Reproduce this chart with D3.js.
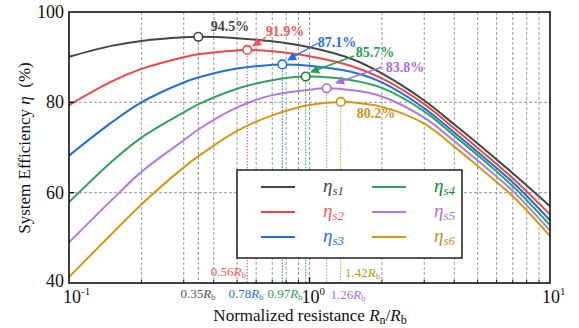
<!DOCTYPE html>
<html><head><meta charset="utf-8">
<script src="https://cdn.jsdelivr.net/npm/d3@7"></script>
<style>
html,body{margin:0;padding:0;background:#fff;}
</style></head>
<body><svg id="c" width="579" height="328" font-family="'Liberation Serif', 'Times New Roman', 'DejaVu Serif', serif"></svg>
<script>
// ---- data ----
const R = [0.1, 0.15, 0.2, 0.3, 0.35, 0.5, 0.7, 1, 1.5, 2, 3, 4, 5, 7, 10];
const etaS1 = [90.1, 92.5, 93.6, 94.4, null, 94.2, 93.5, 92.2, 89.6, 86.4, 80.4, 75.1, 70.9, 64.3, 57.0];
const etaS2 = [79.4, 84.6, 87.4, 90.0, 90.7, 91.5, 91.3, 90.2, 88.0, 85.3, 79.6, 74.2, 69.9, 63.2, 55.2];
const etaS3 = [68.2, 75.5, 80.0, 84.4, 85.6, 87.5, 88.3, 88.1, 86.7, 84.4, 78.7, 73.3, 69.0, 62.3, 53.9];
const etaS4 = [57.9, 66.8, 72.2, 77.8, 79.7, 83.0, 84.9, null, 84.9, 83.2, 78.0, 72.6, 68.3, 61.4, 52.8];
const etaS5 = [49.0, 58.3, 64.6, 71.6, 74.2, 78.9, 81.6, 82.8, 82.7, 81.3, 76.6, 71.4, 67.1, 60.4, 51.6];
const etaS6 = [41.3, 50.8, 57.4, 65.6, 68.3, 73.7, 77.1, 79.4, 80.0, 79.0, 75.3, 70.2, 65.9, 59.2, 50.4];
const seriesNames = ["s1", "s2", "s3", "s4", "s5", "s6"];
const peakR = [0.345, 0.551, 0.771, 0.964, 1.179, 1.348];
const peakEta = [94.5, 91.6, 88.4, 85.7, 83.1, 80.1];
const peakLabels = ["94.5%", "91.9%", "87.1%", "85.7%", "83.8%", "80.2%"];
const peakRLabels = ["0.35", "0.56", "0.78", "0.97", "1.26", "1.42"];
const yTicks = [40, 60, 80, 100];
const xMajor = [0.1, 1, 10];
const xMajorExp = ["-1", "0", "1"];

const allSeries = [etaS1, etaS2, etaS3, etaS4, etaS5, etaS6];
const lineColors = ["#454545", "#f04646", "#1f6fe0", "#2fa35e", "#b07ae2", "#d29a12"];
const textColors = ["#454545", "#f25a5a", "#1f6fe8", "#1fa050", "#a66ee0", "#c8951a"];
const circleColors = ["#454545", "#f04646", "#1f6fe0", "#128a1e", "#a66ee0", "#c8951a"];
const legendTextColors = ["#454545", "#f25a5a", "#1f6fe8", "#128a1e", "#a66ee0", "#c09020"];

// ---- layout ----
const svg = d3.select("#c");
const L = 69, Rt = 550, T = 12, B = 283;
const x = d3.scaleLog().domain([0.1, 10]).range([L, Rt]);
const y = d3.scaleLinear().domain([40, 100]).range([B, T]);

// grid
const minor = [];
[0.1, 1].forEach(d => { for (let k = 2; k <= 9; k++) minor.push(d * k); });
const gridX = minor.concat([1]);
const g = svg.append("g");
g.selectAll(".vg").data(gridX).enter().append("line")
  .attr("x1", d => x(d)).attr("x2", d => x(d)).attr("y1", T).attr("y2", B)
  .attr("stroke", "#9a9a9a").attr("stroke-width", 1).attr("stroke-dasharray", "3,2");
g.selectAll(".hg").data([60, 80]).enter().append("line")
  .attr("x1", L).attr("x2", Rt).attr("y1", d => y(d)).attr("y2", d => y(d))
  .attr("stroke", "#9a9a9a").attr("stroke-width", 1).attr("stroke-dasharray", "3,2");

// peak drop lines
peakR.forEach((pr, i) => {
  svg.append("line").attr("x1", x(pr)).attr("x2", x(pr)).attr("y1", y(peakEta[i])).attr("y2", B)
    .attr("stroke", i === 0 ? "#8a8a8a" : lineColors[i]).attr("stroke-width", 1)
    .attr("stroke-dasharray", i === 0 ? "3,2" : "1.5,1.5");
});

// curves
const line = d3.line().x(d => x(d[0])).y(d => y(d[1])).curve(d3.curveCatmullRom.alpha(0.5));
allSeries.forEach((vals, i) => {
  const pts = [];
  R.forEach((r, j) => { if (vals[j] != null) pts.push([r, vals[j]]); });
  pts.push([peakR[i], peakEta[i]]);
  pts.sort((a, b) => a[0] - b[0]);
  svg.append("path").datum(pts).attr("d", line).attr("fill", "none")
    .attr("stroke", lineColors[i]).attr("stroke-width", 2);
});

// circles
peakR.forEach((pr, i) => {
  svg.append("circle").attr("cx", x(pr)).attr("cy", y(peakEta[i])).attr("r", 4.3)
    .attr("fill", "#fff").attr("stroke", circleColors[i]).attr("stroke-width", 1.6);
});

// frame
svg.append("rect").attr("x", L).attr("y", T).attr("width", Rt - L).attr("height", B - T)
  .attr("fill", "none").attr("stroke", "#111").attr("stroke-width", 1.6);

// ticks (inward)
svg.selectAll(".yt").data([60, 80]).enter().append("line")
  .attr("x1", L).attr("x2", L + 5).attr("y1", d => y(d)).attr("y2", d => y(d))
  .attr("stroke", "#111").attr("stroke-width", 1.4);
svg.selectAll(".xt").data(minor).enter().append("line")
  .attr("x1", d => x(d)).attr("x2", d => x(d)).attr("y1", B).attr("y2", B - 3)
  .attr("stroke", "#111").attr("stroke-width", 1);
svg.selectAll(".xM").data([1]).enter().append("line")
  .attr("x1", d => x(d)).attr("x2", d => x(d)).attr("y1", B).attr("y2", B - 6)
  .attr("stroke", "#111").attr("stroke-width", 1.4);

// y tick labels
svg.selectAll(".yl").data(yTicks).enter().append("text")
  .attr("x", L - 5).attr("y", d => y(d) + (d === 40 ? 4 : 6)).attr("text-anchor", "end")
  .attr("font-size", 18).attr("fill", "#111").text(d => d);

// x tick labels
xMajor.forEach((v, i) => {
  const t = svg.append("text").attr("x", i === 0 ? L - 6 : x(v) - 8).attr("y", B + 20)
    .attr("text-anchor", "start").attr("font-size", 18).attr("fill", "#111");
  t.append("tspan").text("10");
  t.append("tspan").attr("font-size", 11).attr("dy", -8).text(xMajorExp[i]);
});

// axis titles
const xt = svg.append("text").attr("x", 310).attr("y", 321).attr("text-anchor", "middle")
  .attr("font-size", 17).attr("fill", "#111");
xt.append("tspan").text("Normalized resistance ");
xt.append("tspan").attr("font-style", "italic").text("R");
xt.append("tspan").attr("font-size", 12).attr("dy", 3).text("n");
xt.append("tspan").attr("dy", -3).text("/");
xt.append("tspan").attr("font-style", "italic").text("R");
xt.append("tspan").attr("font-size", 12).attr("dy", 3).text("b");

const yt = svg.append("text").attr("transform", "translate(30,148) rotate(-90)")
  .attr("text-anchor", "middle").attr("font-size", 17).attr("fill", "#111");
yt.append("tspan").text("System Efficiency ");
yt.append("tspan").attr("font-style", "italic").text("η");
yt.append("tspan").attr("xml:space", "preserve").text("  (%)");

// peak % labels and arrows
const defs = svg.append("defs");
lineColors.forEach((c, i) => {
  defs.append("marker").attr("id", "ah" + i).attr("viewBox", "0 0 10 10")
    .attr("refX", 9).attr("refY", 5).attr("markerWidth", 9).attr("markerHeight", 9)
    .attr("markerUnits", "userSpaceOnUse").attr("orient", "auto")
    .append("path").attr("d", "M0,0 L10,5 L0,10 z").attr("fill", textColors[i]);
});
const labelPos = [[230, 31], [285, 36], [337, 47], [375, 57], [405, 72], [376, 118]];
const arrows = [null, [266, 37, 253, 46], [318, 43, 288, 60], [354, 56, 311, 72], [382, 67, 336, 83], null];
peakLabels.forEach((lab, i) => {
  svg.append("text").attr("x", labelPos[i][0]).attr("y", labelPos[i][1]).attr("text-anchor", "middle")
    .attr("font-size", 14).attr("font-weight", "bold").attr("fill", textColors[i]).text(lab);
  const a = arrows[i];
  if (a) {
    svg.append("line").attr("x1", a[0]).attr("y1", a[1]).attr("x2", a[2]).attr("y2", a[3])
      .attr("stroke", textColors[i]).attr("stroke-width", 1.4).attr("marker-end", "url(#ah" + i + ")");
  }
});

// R_b labels
const rbPos = [[198, 298, "middle"], [246, 276, "end"], [246, 298, "middle"], [285, 298, "middle"], [348, 299, "middle"], [345, 277, "start"]];
peakRLabels.forEach((lab, i) => {
  const p = rbPos[i];
  const t = svg.append("text").attr("x", p[0]).attr("y", p[1]).attr("text-anchor", p[2])
    .attr("font-size", 13).attr("fill", i === 0 ? "#555" : textColors[i]);
  t.append("tspan").text(lab);
  t.append("tspan").attr("font-style", "italic").text("R");
  t.append("tspan").attr("font-size", 9).attr("dy", 2).text("b");
});

// legend
const lg = svg.append("g");
lg.append("rect").attr("x", 237).attr("y", 170).attr("width", 225).attr("height", 88)
  .attr("fill", "#fff").attr("stroke", "#111").attr("stroke-width", 1.4);
seriesNames.forEach((s, i) => {
  const col = Math.floor(i / 3), row = i % 3;
  const ly = 187 + row * 25;
  const lx = 261 + col * 111;
  lg.append("line").attr("x1", lx).attr("x2", lx + 34).attr("y1", ly).attr("y2", ly)
    .attr("stroke", lineColors[i]).attr("stroke-width", 2);
  const t = lg.append("text").attr("x", lx + 62).attr("y", ly + 5)
    .attr("font-size", 19).attr("font-style", "italic").attr("fill", legendTextColors[i]);
  t.append("tspan").text("η");
  t.append("tspan").attr("font-size", 13).attr("dy", 3).text(s);
});
</script></body></html>
